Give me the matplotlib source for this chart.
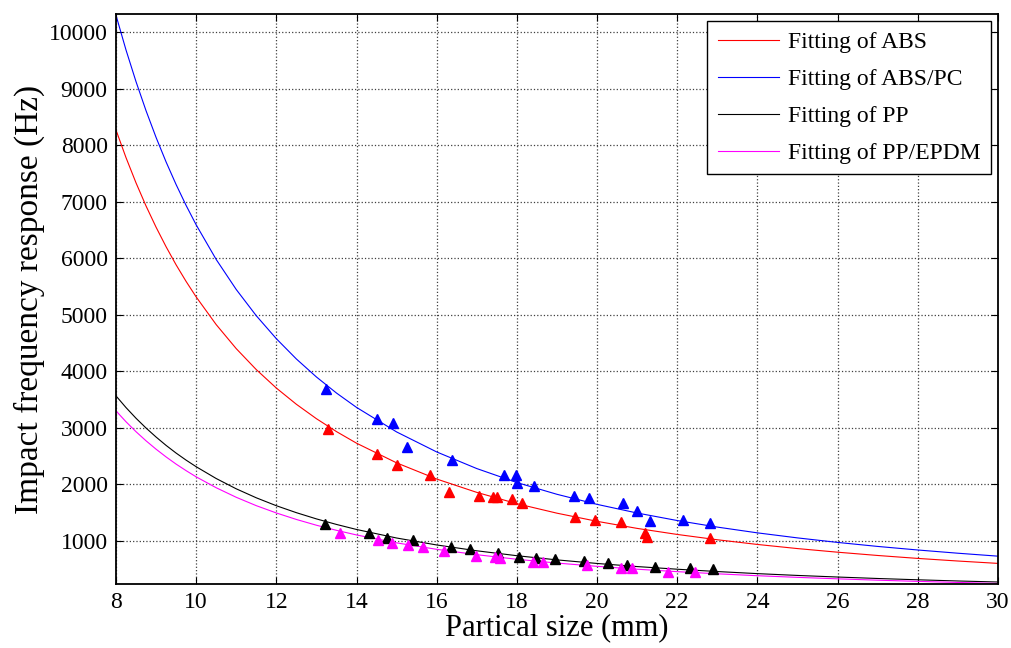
import numpy as np
import matplotlib
matplotlib.use('Agg')
import matplotlib.pyplot as plt
from matplotlib.ticker import MultipleLocator

x_fit = [8, 8.25, 8.5, 8.75, 9, 9.25, 9.5, 9.75, 10, 10.5, 11, 11.5, 12, 12.5, 13, 13.5,
         14, 15, 16, 17, 18, 19, 20, 21, 22, 23, 24, 25, 26, 27, 28, 29, 30]

fit_abs = [8270, 7781, 7334, 6925, 6550, 6204, 5884, 5590, 5317, 4827, 4402, 4031, 3705,
           3418, 3163, 2935, 2730, 2382, 2096, 1860, 1660, 1492, 1348, 1223, 1116, 1022,
           939, 866, 802, 744, 692, 646, 604]
fit_abs_pc = [10300, 9685, 9124, 8610, 8138, 7704, 7304, 6934, 6592, 5979, 5448, 4984, 4578,
              4219, 3901, 3617, 3363, 2929, 2575, 2281, 2034, 1826, 1648, 1495, 1362, 1246,
              1144, 1055, 975, 904, 841, 784, 732]
fit_pp = [3567, 3360, 3171, 2998, 2839, 2691, 2555, 2430, 2314, 2105, 1923, 1764, 1624,
          1501, 1391, 1293, 1204, 1053, 930, 827, 740, 666, 603, 548, 501, 460,
          423, 391, 363, 337, 314, 293, 275]
fit_pp_epdm = [3302, 3109, 2933, 2772, 2624, 2487, 2360, 2244, 2135, 1942, 1773, 1625, 1496,
               1381, 1279, 1189, 1107, 967, 853, 758, 677, 610, 552, 501, 458, 420,
               386, 357, 331, 307, 286, 267, 250]

# measured points
abs_x = [13.29, 14.52, 15.0, 15.83, 16.30, 17.05, 17.41, 17.51, 17.87, 18.14,
         19.46, 19.94, 20.59, 21.19, 21.25, 22.81]
abs_y = [2974, 2532, 2343, 2166, 1871, 1795, 1772, 1772, 1737, 1666,
         1429, 1371, 1341, 1136, 1065, 1058]

abspc_x = [13.25, 14.52, 14.92, 15.27, 16.37, 17.68, 17.98, 18.01, 18.42, 19.42,
           19.80, 20.65, 21.0, 21.32, 22.15, 22.81]
abspc_y = [3680, 3150, 3090, 2666, 2431, 2166, 2166, 2030, 1977, 1800,
           1765, 1666, 1535, 1353, 1371, 1323]

pp_x = [13.21, 14.32, 14.77, 15.41, 16.35, 16.83, 17.53, 18.05, 18.47, 18.95,
        19.67, 20.28, 20.74, 21.44, 22.33, 22.90]
pp_y = [1300, 1147, 1058, 1018, 899, 853, 783, 723, 694, 677,
        652, 617, 576, 535, 518, 500]

ppe_x = [13.59, 14.54, 14.89, 15.29, 15.66, 16.18, 16.97, 17.45, 17.59, 18.41,
         18.65, 19.74, 20.59, 20.88, 21.77, 22.44]
ppe_y = [1147, 1018, 959, 929, 899, 829, 740, 723, 694, 634,
         634, 576, 528, 528, 447, 447]

plt.rcParams['font.family'] = 'Liberation Serif'

fig = plt.figure(figsize=(10.11, 6.48), dpi=100)
ax = fig.add_axes([0.1147, 0.0988, 0.8724, 0.8796])

ax.plot(x_fit, fit_abs, color='red', lw=0.8, label='Fitting of ABS')
ax.plot(x_fit, fit_abs_pc, color='blue', lw=0.8, label='Fitting of ABS/PC')
ax.plot(x_fit, fit_pp, color='black', lw=0.8, label='Fitting of PP')
ax.plot(x_fit, fit_pp_epdm, color='magenta', lw=0.8, label='Fitting of PP/EPDM')

ax.plot(abs_x, abs_y, '^', color='red', ms=7, mec='red')
ax.plot(abspc_x, abspc_y, '^', color='blue', ms=7, mec='blue')
ax.plot(pp_x, pp_y, '^', color='black', ms=7, mec='black')
ax.plot(ppe_x, ppe_y, '^', color='magenta', ms=7, mec='magenta')

ax.set_xlim(8, 30)
ax.set_ylim(240, 10320)
ax.xaxis.set_major_locator(MultipleLocator(2))
ax.yaxis.set_major_locator(MultipleLocator(1000))

ax.grid(True, linestyle=':', color='0.25', linewidth=0.9)
ax.tick_params(direction='in', top=True, right=True, labelsize=17, length=5, pad=6)
for s in ax.spines.values():
    s.set_linewidth(1.3)

ax.set_xlabel('Partical size (mm)', fontsize=22, labelpad=0)
ax.set_ylabel('Impact frequency response (Hz)', fontsize=24, labelpad=3)

leg = ax.legend(loc='upper right', fontsize=17, fancybox=False, framealpha=1,
                edgecolor='black', handlelength=2.6, handletextpad=0.35,
                borderaxespad=0.3, labelspacing=0.65, borderpad=0.45)
leg.get_frame().set_linewidth(1.0)

fig.savefig('out.png', dpi=100)
